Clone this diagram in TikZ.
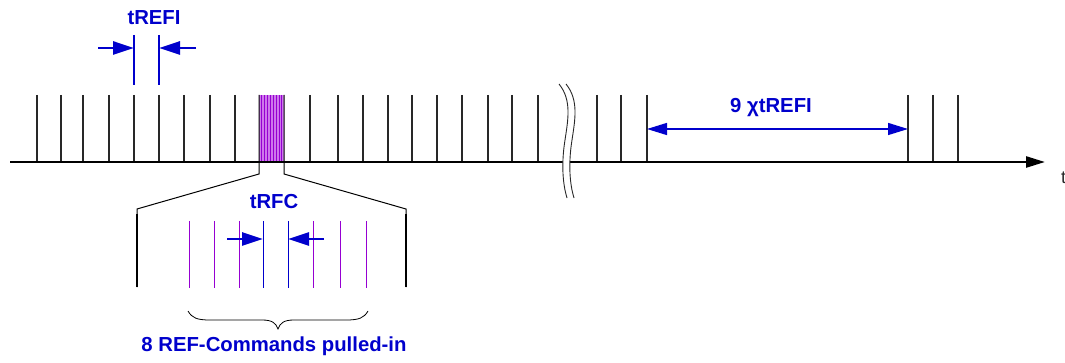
\documentclass[tikz,border=0pt]{standalone}
\usepackage{fontspec}
\setmainfont{Liberation Sans}
\usetikzlibrary{arrows.meta}
\definecolor{myblue}{RGB}{0,0,204}
\definecolor{mypurple}{RGB}{150,0,210}
\definecolor{lightpurple}{RGB}{205,120,235}
\definecolor{tickgray}{RGB}{40,40,40}
\begin{document}
\begin{tikzpicture}[x=1pt,y=-1pt,
  tick/.style={draw=tickgray, line width=1.1pt},
  lbl/.style={text=myblue, font=\fontsize{20.3}{22}\selectfont\bfseries, inner sep=0pt},
  dimarrow/.style={draw=myblue, line width=2.8pt, -{Triangle[length=21pt,width=13pt]}},
  spanarrow/.style={draw=myblue, line width=1.4pt, {Triangle[length=20pt,width=12pt]}-{Triangle[length=20pt,width=12pt]}},
  bluemark/.style={draw=myblue, line width=1.2pt},
  purplemark/.style={draw=mypurple, line width=1pt},
  zoomline/.style={draw=black, line width=1pt},
  breakline/.style={draw=tickgray, line width=0.9pt}
]
\useasboundingbox (0,0) rectangle (1065,363);

% ticks
\foreach \x in {37,61,83,109,134,159,184,210,235,310,338,363,388,412,437,462,488,512,538,597,621,647,908,933,958}
  \draw[tick] (\x,95) -- (\x,162);

% refresh burst block
\fill[lightpurple] (259,95) rectangle (284,162);
\foreach \x in {261.5,264,267,270,273,276,279,281.5}
  \draw[draw=mypurple, line width=1pt] (\x,95) -- (\x,162);

% axis
\coordinate (axL) at (10,162);
\coordinate (axR) at (1045,162);
\draw[line width=2.5pt, -{Triangle[length=19pt,width=11pt]}] (axL) -- (axR);
\node[anchor=west, inner sep=0pt, text=tickgray, font=\fontsize{18}{20}\selectfont] (tlabel) at (1061,178) {t};

% break mark
\fill[white] (559,84) .. controls (572,100) and (568,120) .. (565,140) .. controls (561,165) and (563,185) .. (567,198)
  -- (574,198) .. controls (570,185) and (568,165) .. (572,140) .. controls (575,120) and (579,100) .. (566,84) -- cycle;
\draw[breakline] (559,84) .. controls (572,100) and (568,120) .. (565,140) .. controls (561,165) and (563,185) .. (567,198);
\draw[breakline] (566,84) .. controls (579,100) and (575,120) .. (572,140) .. controls (568,165) and (570,185) .. (574,198);

% burst edges and zoom outline
\coordinate (bl) at (259,95);
\coordinate (br) at (284,95);
\coordinate (zl) at (137,209);
\coordinate (zr) at (406,209);
\draw[zoomline] (bl) -- (259,174) -- (zl) -- (137,287);
\draw[zoomline] (br) -- (284,174) -- (zr) -- (406,287);
\draw[line width=2.2pt] (137,214) -- (137,287);
\draw[line width=2.2pt] (406,214) -- (406,287);

% zoomed refresh commands
\foreach \x in {189,214,239,313,340,366}
  \draw[purplemark] (\x,221) -- (\x,288);
\coordinate (rfcA) at (263,239);
\coordinate (rfcB) at (288,239);
\draw[draw=myblue, line width=1pt] (263,221) -- (263,288);
\draw[draw=myblue, line width=1pt] (288,221) -- (288,288);
\coordinate (rfcAs) at (227,239);
\coordinate (rfcBs) at (324,239);
\draw[dimarrow] (rfcAs) -- (rfcA);
\draw[dimarrow] (rfcBs) -- (rfcB);
\node[lbl] (trfc) at (274,202) {tRFC};

% tREFI
\draw[bluemark] (134,35) -- (134,85);
\draw[bluemark] (159,35) -- (159,85);
\coordinate (refA) at (134,48);
\coordinate (refB) at (159,48);
\coordinate (refAs) at (98,48);
\coordinate (refBs) at (196,48);
\draw[dimarrow] (refAs) -- (refA);
\draw[dimarrow] (refBs) -- (refB);
\node[lbl] (trefi) at (154,18) {tREFI};

% 9 x tREFI
\coordinate (spanA) at (647,129);
\coordinate (spanB) at (908,129);
\draw[spanarrow] (spanA) -- (spanB);
\node[lbl] (ninetrefi) at (771,108) {9 χtREFI};

% brace
\draw[line width=0.8pt] (188,311) .. controls (192,318) and (197,320) .. (210,320) -- (262,320)
  .. controls (272,320) and (276,323) .. (278,329)
  .. controls (280,323) and (284,320) .. (294,320) -- (346,320)
  .. controls (359,320) and (364,318) .. (368,311);
\node[lbl] (pulled) at (274,346) {8 REF-Commands pulled-in};
\end{tikzpicture}
\end{document}
